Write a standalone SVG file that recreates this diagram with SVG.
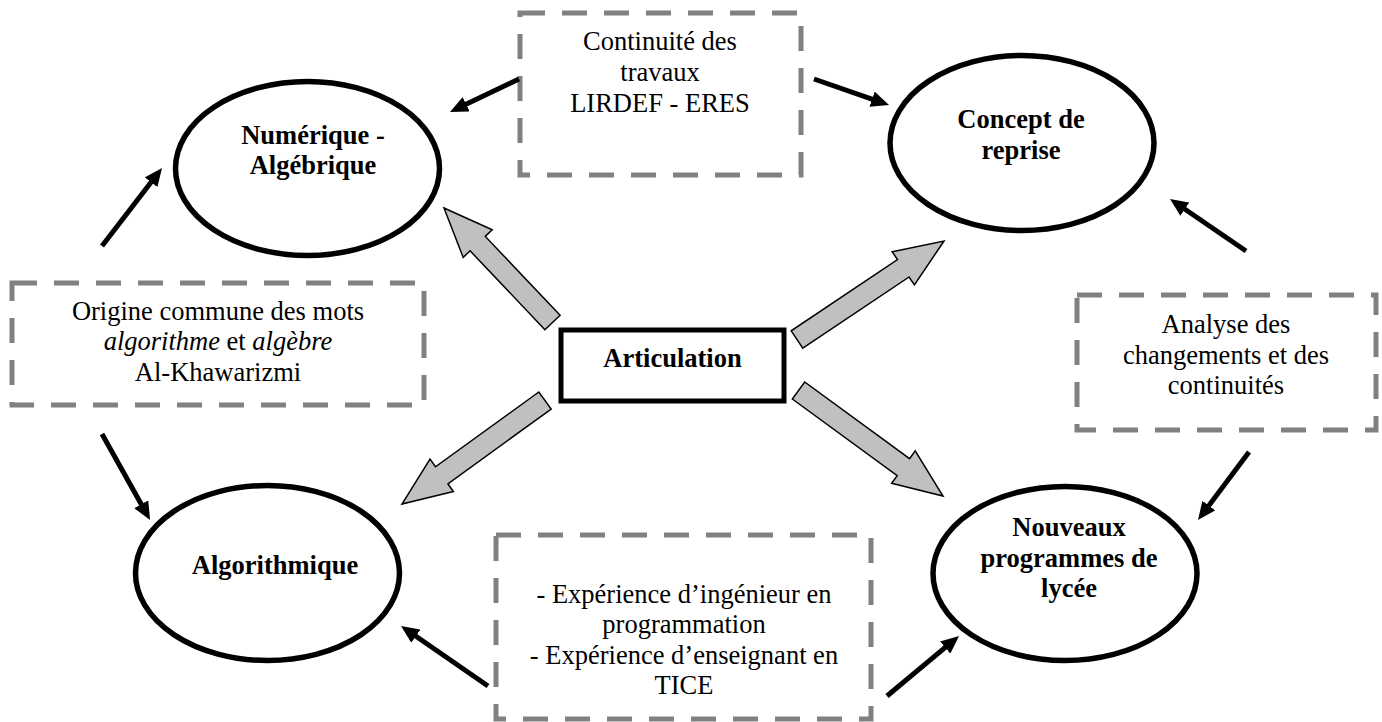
<svg xmlns="http://www.w3.org/2000/svg" width="1382" height="722" viewBox="0 0 1382 722">
<style>
  text { font-family: "Liberation Serif", "Times New Roman", serif; font-size: 26.5px; fill: #000; text-anchor: middle; }
  .b { font-weight: bold; }
  .i { font-style: italic; }
  .node { fill: #fff; stroke: #000; stroke-width: 5.5; }
  .dash { fill: #fff; stroke: #808080; stroke-width: 5; stroke-dasharray: 25 17; }
  .conn { stroke: #000; stroke-width: 5; fill: none; marker-end: url(#ah); }
  .block { fill: #c0c0c0; stroke: #000; stroke-width: 1.5; stroke-linejoin: miter; }
</style>
<defs>
  <marker id="ah" markerUnits="userSpaceOnUse" markerWidth="18" markerHeight="16" refX="6" refY="8" orient="auto">
    <path d="M0,0 L18,8 L0,16 z" fill="#000"/>
  </marker>
</defs>
<rect width="1382" height="722" fill="#fff"/>

<g id="box-continuite">
  <rect class="dash" x="520" y="13" width="281" height="162"/>
  <text x="660" y="50">Continuité des</text>
  <text x="660" y="81">travaux</text>
  <text x="660" y="112">LIRDEF - ERES</text>
</g>

<g id="box-origine">
  <rect class="dash" x="12" y="283" width="412" height="122"/>
  <text x="218" y="320">Origine commune des mots</text>
  <text x="218" y="350"><tspan class="i">algorithme</tspan> et <tspan class="i">algèbre</tspan></text>
  <text x="218" y="381">Al-Khawarizmi</text>
</g>

<g id="box-analyse">
  <rect class="dash" x="1077" y="295" width="299" height="135"/>
  <text x="1226" y="333">Analyse des</text>
  <text x="1226" y="364">changements et des</text>
  <text x="1226" y="394">continuités</text>
</g>

<g id="box-experience">
  <rect class="dash" x="496" y="535" width="375" height="184"/>
  <text x="684" y="603">- Expérience d’ingénieur en</text>
  <text x="684" y="633">programmation</text>
  <text x="684" y="664">- Expérience d’enseignant en</text>
  <text x="684" y="694">TICE</text>
</g>

<g id="node-numerique">
  <ellipse class="node" cx="307.5" cy="168.5" rx="132" ry="87"/>
  <text class="b" x="313" y="144">Numérique -</text>
  <text class="b" x="313" y="174">Algébrique</text>
</g>

<g id="node-concept">
  <ellipse class="node" cx="1022" cy="143" rx="132" ry="87.5"/>
  <text class="b" x="1021" y="128">Concept de</text>
  <text class="b" x="1021" y="159">reprise</text>
</g>

<g id="node-algorithmique">
  <ellipse class="node" cx="267.5" cy="573" rx="132" ry="87.5"/>
  <text class="b" x="275" y="574">Algorithmique</text>
</g>

<g id="node-nouveaux">
  <ellipse class="node" cx="1065" cy="573.5" rx="132" ry="87"/>
  <text class="b" x="1069" y="536">Nouveaux</text>
  <text class="b" x="1069" y="567">programmes de</text>
  <text class="b" x="1069" y="597">lycée</text>
</g>

<g id="node-articulation">
  <rect x="561" y="330" width="223" height="71" fill="#fff" stroke="#000" stroke-width="5"/>
  <text class="b" x="672.5" y="367">Articulation</text>
</g>

<g id="connectors">
  <line class="conn" x1="102" y1="246" x2="154.7" y2="177.5"/>
  <line class="conn" x1="519" y1="79" x2="460.8" y2="106.8"/>
  <line class="conn" x1="814" y1="79" x2="877.7" y2="101.1"/>
  <line class="conn" x1="1246" y1="251" x2="1179.9" y2="205.8"/>
  <line class="conn" x1="1249" y1="452" x2="1205.2" y2="510.4"/>
  <line class="conn" x1="887" y1="696" x2="949.8" y2="643.7"/>
  <line class="conn" x1="488" y1="686" x2="410.9" y2="632.8"/>
  <line class="conn" x1="102" y1="434" x2="144.2" y2="509.5"/>
  <polygon class="block" points="560.1,315.3 485.3,236.4 492.2,229.8 444,208 463.2,257.4 470.1,250.8 544.9,329.7"/>
  <polygon class="block" points="802.8,348.2 909.1,277.0 914.4,284.9 944,241 892.2,251.7 897.5,259.6 791.2,330.8"/>
  <polygon class="block" points="538.8,392.0 435.5,466.8 430.0,459.1 402,504 453.4,491.5 447.9,483.8 551.2,409.0"/>
  <polygon class="block" points="792.3,399.0 897.2,475.6 891.6,483.3 943,496 915.2,450.9 909.6,458.6 804.7,382.0"/>
</g>
</svg>
